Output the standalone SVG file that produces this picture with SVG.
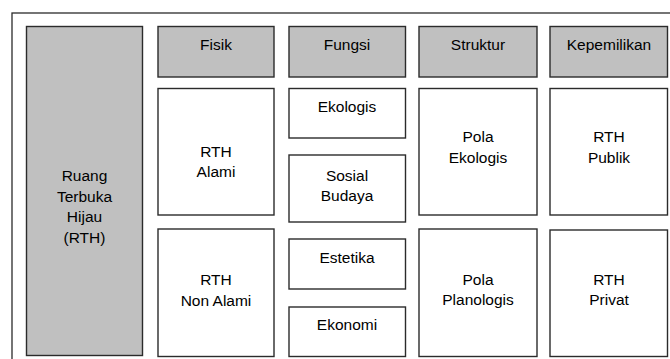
<svg xmlns="http://www.w3.org/2000/svg" width="670" height="359" viewBox="0 0 670 359">
<style>
.b{fill:#fff;stroke:#2b2b2b;stroke-width:1.4}
.g{fill:#c0c0c0;stroke:#2b2b2b;stroke-width:1.4}
text{font-family:"Liberation Sans",Arial,sans-serif;font-size:15.5px;fill:#000;text-anchor:middle}
</style>
<rect x="12" y="13" width="680" height="370" fill="#fff" stroke="#2b2b2b" stroke-width="1.3"/>
<g id="rth"><rect class="g" x="26.5" y="26.5" width="116" height="329"/><text x="84.5" y="181">Ruang</text><text x="84.5" y="201.5">Terbuka</text><text x="84.5" y="222">Hijau</text><text x="84.5" y="242.5">(RTH)</text></g>
<g id="fisik"><rect class="g" x="158" y="26.5" width="116" height="50.5"/><text x="216" y="50">Fisik</text></g>
<g id="fungsi"><rect class="g" x="289" y="26.5" width="116.5" height="50.5"/><text x="347" y="50">Fungsi</text></g>
<g id="struktur"><rect class="g" x="419" y="26.5" width="118" height="50.5"/><text x="478" y="50">Struktur</text></g>
<g id="kepemilikan"><rect class="g" x="550" y="26.5" width="117.5" height="50.5"/><text x="609" y="50">Kepemilikan</text></g>
<g id="alami"><rect class="b" x="158" y="88.5" width="116" height="126.5"/><text x="216" y="157">RTH</text><text x="216" y="177">Alami</text></g>
<g id="nonalami"><rect class="b" x="158" y="229" width="116" height="127.5"/><text x="216" y="285">RTH</text><text x="216" y="306">Non Alami</text></g>
<g id="ekologis"><rect class="b" x="289" y="88.5" width="116.5" height="49.5"/><text x="347" y="112">Ekologis</text></g>
<g id="sosial"><rect class="b" x="289" y="155" width="116.5" height="67"/><text x="347" y="180.5">Sosial</text><text x="347" y="200.5">Budaya</text></g>
<g id="estetika"><rect class="b" x="289" y="239" width="116.5" height="50"/><text x="347" y="263">Estetika</text></g>
<g id="ekonomi"><rect class="b" x="289" y="307" width="116.5" height="49.5"/><text x="347" y="330">Ekonomi</text></g>
<g id="polaekologis"><rect class="b" x="419" y="88.5" width="118" height="126.5"/><text x="478" y="142">Pola</text><text x="478" y="163">Ekologis</text></g>
<g id="polaplanologis"><rect class="b" x="419" y="229" width="118" height="127.5"/><text x="478" y="285">Pola</text><text x="478" y="305">Planologis</text></g>
<g id="publik"><rect class="b" x="550" y="88.5" width="117.5" height="126.5"/><text x="609" y="142">RTH</text><text x="609" y="163">Publik</text></g>
<g id="privat"><rect class="b" x="550" y="230" width="117.5" height="126.5"/><text x="609" y="285">RTH</text><text x="609" y="305">Privat</text></g>
<g id="connectors"/>
</svg>
